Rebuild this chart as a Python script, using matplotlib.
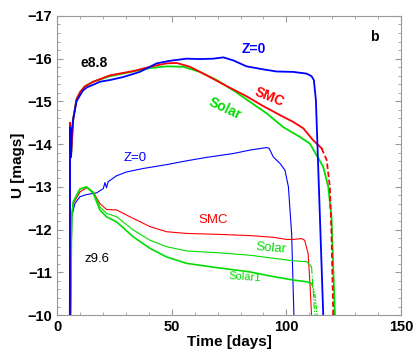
import numpy as np
import matplotlib.pyplot as plt
from matplotlib.ticker import MultipleLocator

plt.rcParams['font.family'] = ['Liberation Sans', 'DejaVu Sans']

# e8.8 models (thick lines)
e_z0_t = [5.5, 5.6, 6.0, 6.3, 7.0, 8.4, 10.0, 11.3, 13.0, 15.7, 18.6, 23.0, 28.8, 36.0, 43.4, 49.2, 56.5,
          62.3, 68.1, 72.5, 76.8, 82.6, 89.9, 95.7, 103.0, 108.8, 111.0, 112.0, 112.9, 113.9, 114.9, 116.1]
e_z0_u = [-10.0, -14.4, -13.7, -14.3, -14.6, -15.0, -15.15, -15.26, -15.33, -15.39, -15.46, -15.5, -15.57,
          -15.69, -15.89, -15.95, -16.0, -15.99, -16.0, -16.03, -15.96, -15.82, -15.75, -15.7, -15.69,
          -15.65, -15.59, -15.5, -15.03, -13.47, -11.91, -10.0]

e_smc_t = [5.5, 5.6, 6.0, 7.0, 8.4, 10.0, 12.0, 15.7, 23.0, 33.2, 40.5, 47.7, 52.1, 57.9, 65.2, 73.9, 82.6,
           89.9, 97.2, 103.0, 107.4, 111.7, 113.9, 115.4]
e_smc_u = [-10.0, -14.5, -13.7, -14.6, -15.05, -15.22, -15.35, -15.46, -15.61, -15.71, -15.81, -15.89,
           -15.9, -15.81, -15.61, -15.36, -15.12, -14.89, -14.68, -14.52, -14.37, -14.09, -13.98, -13.9]
e_smc_end_t = [115.4, 117.6, 119.0, 119.7, 120.5]
e_smc_end_u = [-13.9, -13.63, -13.0, -11.9, -10.0]

e_sol_t = [5.5, 5.6, 6.0, 7.0, 8.4, 10.0, 12.0, 15.7, 23.0, 33.2, 40.5, 47.7, 55.0, 62.3, 69.6, 76.8, 84.1,
           91.4, 98.6, 105.9, 110.3, 113.2, 116.1, 118.3, 119.7, 121.2]
e_sol_u = [-10.0, -14.5, -13.7, -14.6, -15.05, -15.22, -15.35, -15.46, -15.59, -15.7, -15.78, -15.82,
           -15.81, -15.69, -15.5, -15.26, -14.99, -14.72, -14.4, -14.17, -14.01, -13.74, -13.47, -13.0,
           -12.3, -10.0]

# z9.6 models (thin lines)
z_z0_t = [5.8, 6.3, 7.7, 9.9, 12.8, 17.2, 20.1, 20.8, 21.5, 22.2, 25.9, 30.3, 37.5, 47.7, 56.5, 65.2,
          76.8, 84.1, 91.4, 92.5, 94.3, 97.2, 99.4, 100.9, 102.3, 103.3]
z_z0_u = [-10.0, -12.3, -12.61, -12.77, -12.82, -12.86, -12.96, -13.1, -12.98, -13.12, -13.26, -13.35,
          -13.43, -13.52, -13.61, -13.69, -13.78, -13.86, -13.92, -13.9, -13.7, -13.55, -13.39, -13.0,
          -11.91, -10.0]

z_smc_t = [5.8, 6.3, 7.0, 9.9, 12.8, 15.7, 18.6, 21.5, 25.9, 33.2, 40.5, 47.7, 56.5, 69.6, 84.1, 94.3,
           100.1, 103.0, 106.6, 108.0, 109.5, 110.3, 111.0]
z_smc_u = [-10.0, -12.3, -12.61, -12.88, -12.98, -12.88, -12.61, -12.47, -12.46, -12.26, -12.07, -11.95,
           -11.91, -11.89, -11.86, -11.82, -11.77, -11.77, -11.79, -11.75, -11.44, -10.74, -10.0]

z_sol_t = [5.8, 6.3, 7.0, 9.9, 12.8, 15.7, 18.6, 21.5, 25.9, 33.2, 40.5, 47.7, 56.5, 69.6, 84.1, 98.6,
           103.0, 108.8, 111.0]
z_sol_u = [-10.0, -12.3, -12.65, -12.95, -13.0, -12.88, -12.53, -12.38, -12.3, -11.99, -11.75, -11.6,
           -11.5, -11.46, -11.4, -11.3, -11.27, -11.25, -11.13]
z_sol_end_t = [111.0, 111.7, 112.4]
z_sol_end_u = [-11.13, -10.58, -10.0]

z_sol1_t = [5.8, 6.3, 7.0, 9.9, 12.8, 15.7, 18.6, 21.5, 25.9, 33.2, 40.5, 47.7, 56.5, 69.6, 84.1, 94.3,
            103.0, 108.8, 111.0]
z_sol1_u = [-10.0, -12.3, -12.65, -12.95, -13.0, -12.85, -12.46, -12.3, -12.18, -11.83, -11.56, -11.36,
            -11.21, -11.11, -11.01, -10.9, -10.82, -10.78, -10.74]
z_sol1_end_t = [111.0, 112.4, 113.4]
z_sol1_end_u = [-10.74, -10.5, -10.0]

blue = '#0000ff'
red = '#ff0000'
green = '#00dd00'

fig = plt.figure(figsize=(4.15, 3.54), dpi=100)
ax = fig.add_axes([0.138, 0.11, 0.828, 0.845])

ax.plot(z_z0_t, z_z0_u, color=blue, lw=0.8)
ax.plot(z_smc_t, z_smc_u, color=red, lw=0.8)
ax.plot(z_sol_t, z_sol_u, color=green, lw=0.8)
ax.plot(z_sol_end_t, z_sol_end_u, color=green, lw=0.8, ls='-.')
ax.plot(z_sol1_t, z_sol1_u, color=green, lw=1.2)
ax.plot(z_sol1_end_t, z_sol1_end_u, color=green, lw=1.0, ls=(0, (3, 1, 1, 1, 1, 1)))

ax.plot(e_sol_t, e_sol_u, color=green, lw=1.3)
ax.plot(e_smc_t, e_smc_u, color=red, lw=1.3)
ax.plot(e_smc_end_t, e_smc_end_u, color=red, lw=1.3, ls=(0, (3, 1.5)))
ax.plot(e_z0_t, e_z0_u, color=blue, lw=1.3)

ax.set_xlim(0, 150)
ax.set_ylim(-10, -17)
ax.xaxis.set_major_locator(MultipleLocator(50))
ax.xaxis.set_minor_locator(MultipleLocator(10))
ax.yaxis.set_major_locator(MultipleLocator(1))
ax.yaxis.set_minor_locator(MultipleLocator(0.2))
ax.tick_params(which='both', direction='in', top=True, right=True, color='#999999')
ax.tick_params(which='major', length=4, labelsize=10.5)
ax.tick_params(which='minor', length=2)
for lab in ax.get_xticklabels() + ax.get_yticklabels():
    lab.set_fontweight('bold')
for sp in ax.spines.values():
    sp.set_color('#999999')

ax.set_xlabel('Time [days]', fontsize=11, fontweight='bold', labelpad=1)
ax.set_ylabel('U [mags]', fontsize=11, fontweight='bold', labelpad=2)

ax.text(138.6, -16.5, 'b', fontsize=10, fontweight='bold', ha='center', va='center')
ax.text(85.8, -16.22, 'Z=0', fontsize=10, fontweight='bold', color=blue, ha='center', va='center')
ax.text(16.0, -15.89, 'e8.8', fontsize=10, fontweight='bold', ha='center', va='center')
ax.text(92.4, -15.1, 'SMC', fontsize=10, fontweight='bold', color=red, ha='center', va='center', rotation=-22)
ax.text(73.2, -14.84, 'Solar', fontsize=10, fontweight='bold', color=green, ha='center', va='center', rotation=-25)
ax.text(33.9, -13.67, 'Z=0', fontsize=9.5, color=blue, ha='center', va='center')
ax.text(68.0, -12.22, 'SMC', fontsize=9.5, color=red, ha='center', va='center')
ax.text(93.5, -11.56, 'Solar', fontsize=9.5, color=green, ha='center', va='center', rotation=-5)
ax.text(17.3, -11.31, 'z9.6', fontsize=9.5, ha='center', va='center')
ax.text(81.8, -10.89, 'Solar1', fontsize=8, color=green, ha='center', va='center', rotation=-4)

fig.savefig('out.png', dpi=100)
